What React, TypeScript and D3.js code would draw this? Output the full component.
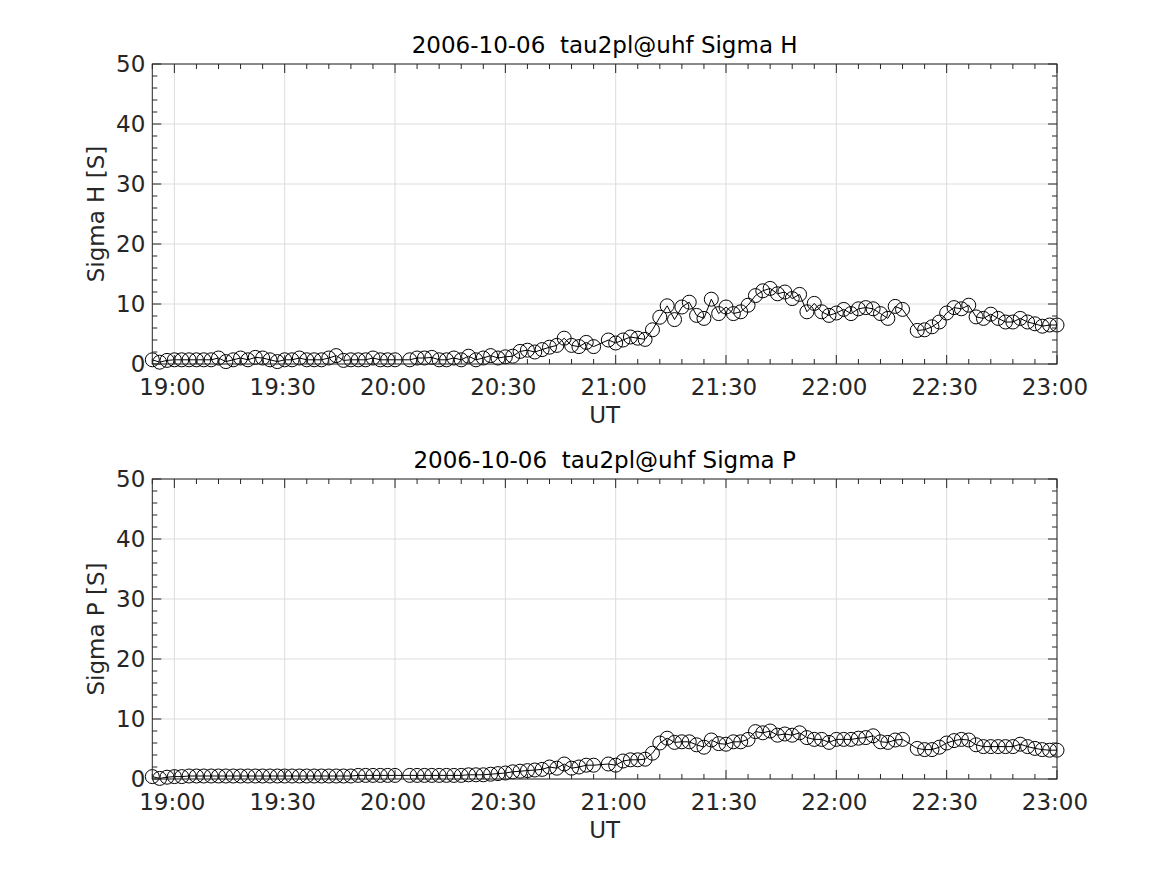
import React from 'react'
import * as d3 from 'd3'

// sample times (UT), 2 min cadence, a few samples missing
const times = [
  '18:54', '18:56', '18:58', '19:00', '19:02', '19:04', '19:06', '19:08', '19:10', '19:12',
  '19:14', '19:16', '19:18', '19:20', '19:22', '19:24', '19:26', '19:28', '19:30', '19:32',
  '19:34', '19:36', '19:38', '19:40', '19:42', '19:44', '19:46', '19:48', '19:50', '19:52',
  '19:54', '19:56', '19:58', '20:00', '20:04', '20:06', '20:08', '20:10', '20:12',
  '20:14', '20:16', '20:18', '20:20', '20:22', '20:24', '20:26', '20:28', '20:30', '20:32',
  '20:34', '20:36', '20:38', '20:40', '20:42', '20:44', '20:46', '20:48', '20:50', '20:52',
  '20:54', '20:58', '21:00', '21:02', '21:04', '21:06', '21:08', '21:10', '21:12',
  '21:14', '21:16', '21:18', '21:20', '21:22', '21:24', '21:26', '21:28', '21:30', '21:32',
  '21:34', '21:36', '21:38', '21:40', '21:42', '21:44', '21:46', '21:48', '21:50', '21:52',
  '21:54', '21:56', '21:58', '22:00', '22:02', '22:04', '22:06', '22:08', '22:10', '22:12',
  '22:14', '22:16', '22:18', '22:22', '22:24', '22:26', '22:28', '22:30', '22:32',
  '22:34', '22:36', '22:38', '22:40', '22:42', '22:44', '22:46', '22:48', '22:50', '22:52',
  '22:54', '22:56', '22:58', '23:00'
]

const sigmaH = [
  0.7, 0.3, 0.6, 0.7, 0.7, 0.7, 0.7, 0.7, 0.7, 1.0,
  0.4, 0.7, 1.0, 0.7, 1.1, 1.0, 0.7, 0.4, 0.7, 0.7,
  1.0, 0.7, 0.7, 0.7, 1.0, 1.4, 0.6, 0.7, 0.7, 0.7,
  1.0, 0.7, 0.7, 0.7, 0.7, 1.0, 1.0, 1.1, 0.7,
  0.7, 1.0, 0.7, 1.3, 0.7, 1.0, 1.4, 1.0, 1.2, 1.3,
  2.1, 2.3, 2.0, 2.4, 2.8, 3.1, 4.3, 3.1, 2.9, 3.6,
  2.9, 4.0, 3.5, 4.0, 4.5, 4.3, 4.1, 5.7, 7.8,
  9.7, 7.4, 9.5, 10.3, 8.1, 7.6, 10.8, 8.4, 9.5, 8.4,
  8.7, 9.8, 11.4, 12.2, 12.6, 11.7, 12.0, 10.9, 11.6, 8.7,
  10.1, 8.7, 8.1, 8.5, 9.1, 8.4, 9.2, 9.4, 9.2, 8.4,
  7.6, 9.6, 9.1, 5.6, 5.7, 6.2, 7.0, 8.5, 9.4,
  9.2, 9.8, 7.85, 7.6, 8.3, 7.6, 7.0, 7.0, 7.6, 7.0,
  6.7, 6.3, 6.5, 6.5
]

const sigmaP = [
  0.4, 0.1, 0.3, 0.4, 0.4, 0.5, 0.5, 0.5, 0.5, 0.5,
  0.5, 0.5, 0.5, 0.5, 0.5, 0.5, 0.5, 0.5, 0.5, 0.5,
  0.5, 0.5, 0.5, 0.5, 0.5, 0.5, 0.5, 0.5, 0.6, 0.6,
  0.6, 0.6, 0.6, 0.6, 0.6, 0.6, 0.6, 0.6, 0.6,
  0.6, 0.6, 0.6, 0.7, 0.7, 0.7, 0.8, 0.9, 1.0, 1.2,
  1.3, 1.4, 1.5, 1.6, 2.0, 1.8, 2.5, 1.8, 2.0, 2.3,
  2.3, 2.5, 2.3, 3.0, 3.2, 3.2, 3.3, 4.3, 6.0,
  6.8, 6.1, 6.2, 6.2, 5.7, 5.3, 6.5, 5.9, 5.8, 6.2,
  6.2, 6.6, 7.9, 7.7, 8.0, 7.3, 7.5, 7.3, 7.7, 6.9,
  6.6, 6.6, 6.1, 6.6, 6.6, 6.6, 6.8, 6.9, 7.2, 6.2,
  6.1, 6.5, 6.6, 5.1, 4.9, 4.9, 5.3, 6.0, 6.4,
  6.6, 6.5, 5.7, 5.4, 5.4, 5.4, 5.4, 5.4, 5.8, 5.4,
  5.1, 4.9, 4.8, 4.8
]

const xTickLabels = ['19:00', '19:30', '20:00', '20:30', '21:00', '21:30', '22:00', '22:30', '23:00']
const yTicks = [0, 10, 20, 30, 40, 50]

const panels = [
  {title: '2006-10-06  tau2pl@uhf Sigma H', ylabel: 'Sigma H [S]', values: sigmaH},
  {title: '2006-10-06  tau2pl@uhf Sigma P', ylabel: 'Sigma P [S]', values: sigmaP}
]

const toMin = (s: string) => {
  const [h, m] = s.split(':').map(Number)
  return h * 60 + m
}

const W = 1167
const H = 875
const left = 152.3
const right = 1057
const plotH = 300
const tops = [64, 479]
const ink = '#262626'
const font = 'DejaVu Sans, sans-serif'
const fs = 23

const x = d3.scaleLinear().domain([toMin('18:54'), toMin('23:00')]).range([left, right])

function Panel({top, title, ylabel, values}: {top: number, title: string, ylabel: string, values: number[]}) {
  const y = d3.scaleLinear().domain([0, 50]).range([top + plotH, top])
  const pts = times.map((t, i) => [x(toMin(t)), y(values[i])] as [number, number])
  const line = d3.line()(pts) || ''
  const xMajor = xTickLabels.map(toMin)
  const xMinor = d3.range(toMin('18:54'), toMin('23:00') + 1, 6).filter(m => !xMajor.includes(m))
  const yMinor = d3.range(0, 51, 2).filter(v => v % 10 !== 0)
  const bottom = top + plotH
  return (
    <g>
      {/* grid */}
      {xMajor.map(m => (
        <line key={'gx' + m} x1={x(m)} x2={x(m)} y1={top} y2={bottom} stroke='#dcdcdc' strokeWidth={1} />
      ))}
      {yTicks.map(v => (
        <line key={'gy' + v} x1={left} x2={right} y1={y(v)} y2={y(v)} stroke='#dcdcdc' strokeWidth={1} />
      ))}

      {/* data */}
      <path d={line} fill='none' stroke='#000' strokeWidth={1} />
      {pts.map((p, i) => (
        <circle key={i} cx={p[0]} cy={p[1]} r={7} fill='none' stroke='#000' strokeWidth={1} />
      ))}

      {/* box */}
      <rect x={left} y={top} width={right - left} height={plotH} fill='none' stroke={ink} strokeWidth={1} />
      {xMajor.map(m => (
        <g key={'tx' + m}>
          <line x1={x(m)} x2={x(m)} y1={bottom} y2={bottom - 9} stroke={ink} />
          <line x1={x(m)} x2={x(m)} y1={top} y2={top + 9} stroke={ink} />
        </g>
      ))}
      {xMinor.map(m => (
        <g key={'mx' + m}>
          <line x1={x(m)} x2={x(m)} y1={bottom} y2={bottom - 5} stroke={ink} />
          <line x1={x(m)} x2={x(m)} y1={top} y2={top + 5} stroke={ink} />
        </g>
      ))}
      {yTicks.map(v => (
        <g key={'ty' + v}>
          <line x1={left} x2={left + 9} y1={y(v)} y2={y(v)} stroke={ink} />
          <line x1={right} x2={right - 9} y1={y(v)} y2={y(v)} stroke={ink} />
        </g>
      ))}
      {yMinor.map(v => (
        <g key={'my' + v}>
          <line x1={left} x2={left + 5} y1={y(v)} y2={y(v)} stroke={ink} />
          <line x1={right} x2={right - 5} y1={y(v)} y2={y(v)} stroke={ink} />
        </g>
      ))}

      {/* labels */}
      {xTickLabels.map(s => (
        <text key={'lx' + s} x={x(toMin(s)) - 2} y={bottom + 31} textAnchor='middle' fontSize={fs} fill={ink} fontFamily={font}>{s}</text>
      ))}
      {yTicks.map(v => (
        <text key={'ly' + v} x={left - 7} y={y(v) + 8} textAnchor='end' fontSize={fs} fill={ink} fontFamily={font}>{v}</text>
      ))}
      <text x={(left + right) / 2} y={top - 11} textAnchor='middle' fontSize={fs} fill='#000' fontFamily={font} style={{whiteSpace: 'pre'}}>{title}</text>
      <text x={(left + right) / 2} y={bottom + 59} textAnchor='middle' fontSize={fs} fill={ink} fontFamily={font}>UT</text>
      <text transform={`translate(104,${(top + bottom) / 2}) rotate(-90)`} textAnchor='middle' fontSize={fs} fill={ink} fontFamily={font}>{ylabel}</text>
    </g>
  )
}

export default function App() {
  return (
    <svg width={W} height={H} style={{position: 'absolute', left: 0, top: 0, background: '#fff'}}>
      <rect width={W} height={H} fill='#fff' />
      {panels.map((p, k) => (
        <Panel key={k} top={tops[k]} title={p.title} ylabel={p.ylabel} values={p.values} />
      ))}
    </svg>
  )
}
